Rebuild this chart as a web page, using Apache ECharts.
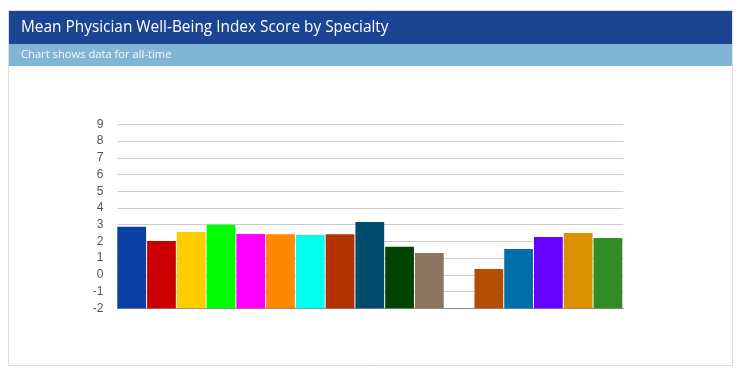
<!DOCTYPE html>
<html>
<head>
<meta charset="utf-8">
<script src="https://cdn.jsdelivr.net/npm/echarts@6/dist/echarts.min.js"></script>
<style>
html,body{margin:0;padding:0;background:#fff;}
#chart{width:741px;height:374px;}
</style>
</head>
<body>
<div id="chart"></div>
<script>
const titleText = 'Mean Physician Well-Being Index Score by Specialty';
const subtitleText = 'Chart shows data for all-time';
const categories = ['S1','S2','S3','S4','S5','S6','S7','S8','S9','S10','S11','S12','S13','S14','S15','S16','S17'];
const scores = [2.88, 2.02, 2.56, 3.0, 2.44, 2.42, 2.38, 2.42, 3.16, 1.68, 1.31, null, 0.35, 1.55, 2.26, 2.5, 2.2];
const barColors = ['#0a3fa3','#cc0000','#ffcc00','#00ff00','#ff00ff','#ff8800','#00ffee','#b33300','#004a6e','#004400','#8c7560','#999999','#b34d00','#006ea8','#6600ff','#d99100','#338c26'];
const yMin = -2, yMax = 9, yStep = 1;

const chart = echarts.init(document.getElementById('chart'));
chart.setOption({
  animation: false,
  graphic: [
    {type:'rect', z:0, shape:{x:8.5,y:10.5,width:724,height:355}, style:{fill:'#fff', stroke:'#dddddd', lineWidth:1}},
    {type:'rect', z:1, shape:{x:9,y:11,width:723,height:33}, style:{fill:'#1b4592'}},
    {type:'rect', z:1, shape:{x:9,y:44,width:723,height:22}, style:{fill:'#80b6d4'}},
    {type:'text', z:2, x:21, y:28, style:{text:titleText, fill:'#ffffff', font:'15.4px "Open Sans", sans-serif', verticalAlign:'middle'}},
    {type:'text', z:2, x:21, y:55, style:{text:subtitleText, fill:'#f4f8fb', font:'11.2px "Open Sans", sans-serif', verticalAlign:'middle'}}
  ],
  grid: {left:117.3, right:117.7, top:124.3, bottom:65.7, containLabel:false},
  xAxis: {
    type:'category', data:categories,
    axisLine:{show:true, onZero:false, lineStyle:{color:'#888', width:1}},
    axisTick:{show:false}, axisLabel:{show:false}, splitLine:{show:false}
  },
  yAxis: {
    type:'value', min:yMin, max:yMax, interval:yStep,
    axisLine:{show:false}, axisTick:{show:false},
    axisLabel:{color:'#555', fontFamily:'Liberation Sans, Arial, sans-serif', fontSize:12, margin:14},
    splitLine:{lineStyle:{color:'#cccccc', width:1}}
  },
  series: [{
    type:'custom',
    data: scores.map((v,i)=>[i, v]),
    renderItem: function(params, api){
      const v = api.value(1);
      if (v === null || v === undefined || isNaN(v)) return null;
      const idx = api.value(0);
      const top = api.coord([idx, v]);
      const base = api.coord([idx, yMin]);
      const w = api.size([1, 0])[0];
      const bw = w - 1;
      return {
        type:'rect',
        shape:{x: top[0] - w/2, y: top[1], width: bw, height: base[1] - top[1]},
        style:{fill: barColors[params.dataIndex]}
      };
    }
  }]
});
</script>
</body>
</html>
